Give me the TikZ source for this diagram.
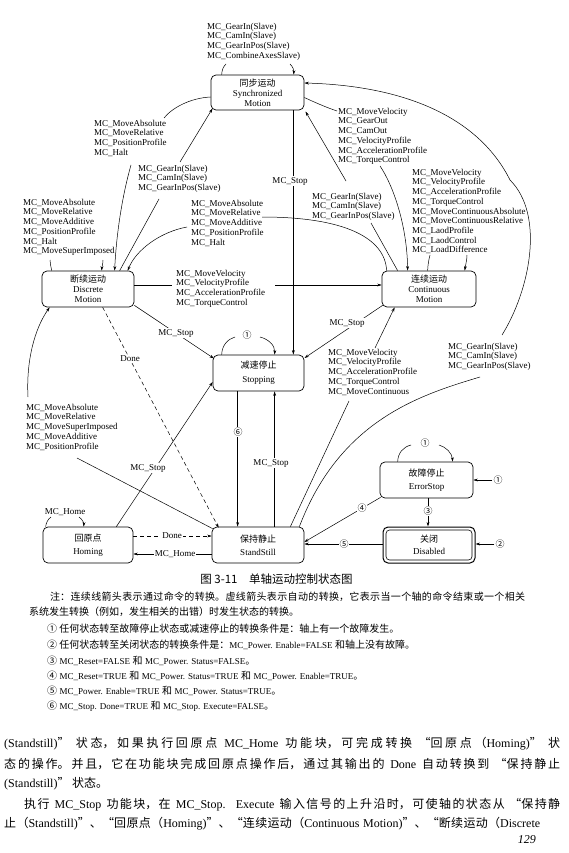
\documentclass[tikz,border=0pt]{standalone}
\usepackage{fontspec}
\setmainfont{Liberation Serif}
\newfontfamily\cjk{Noto Sans CJK SC}
\usetikzlibrary{arrows.meta}
\newcommand\zh[1]{{\cjk #1}}
\newcommand\jz{\XeTeXlinebreaklocale "zh"\XeTeXlinebreakskip=0pt plus 1pt\relax
  \tolerance=10000\hbadness=10000\parfillskip=0pt\parindent=0pt\relax}
\newcommand\jline[2]{\parbox[b]{#1}{\jz\noindent #2}}
\newcommand\nf{\fontsize{10}{11}\selectfont}
\newcommand\nl[1]{{\fontsize{9}{10}\selectfont #1}}
\newcommand\pf{\fontsize{12}{13}\selectfont}
\tikzset{
  st/.style={draw, rounded corners=5pt, line width=0.7pt, inner sep=0pt, align=center,
    font=\fontsize{9}{10}\selectfont, minimum height=36pt},
  ln/.style={line width=0.5pt},
  ar/.style={-{Stealth[length=4.5pt,width=2.8pt]}},
  dsh/.style={dash pattern=on 4pt off 3pt},
  lbl/.style={anchor=north west, inner sep=0pt, align=left, font=\fontsize{9}{9.7}\selectfont},
  wl/.style={fill=white, inner sep=0.8pt, font=\fontsize{9}{9.7}\selectfont},
  txt/.style={anchor=base west, inner sep=0pt},
}
\begin{document}
\begin{tikzpicture}[x=1pt,y=-1pt]
\fill[white] (0,0) rectangle (568,853);
\useasboundingbox (0,0) rectangle (568,853);

% ---------- states
\node[st, minimum width=93pt, minimum height=35pt] (sync) at (257.5,92.5) {\zh{同步运动}\\Synchronized\\Motion};
\node[st, minimum width=92pt] (disc) at (88,289) {\zh{断续运动}\\Discrete\\Motion};
\node[st, minimum width=94pt] (cont) at (429,289) {\zh{连续运动}\\Continuous\\Motion};
\node[st, minimum width=91pt] (stop) at (258.5,373) {\zh{减速停止}\\[4pt]Stopping};
\node[st, minimum width=92pt] (stand) at (258,545) {\zh{保持静止}\\[3pt]StandStill};
\node[st, minimum width=90pt] (hom) at (88,545) {\zh{回原点}\\[3pt]Homing};
\node[st, minimum width=92pt, line width=1pt] (dis) at (429,545) {\zh{关闭}\\[2pt]Disabled};
\draw[line width=0.6pt, rounded corners=3.5pt] ([xshift=3.5pt,yshift=-3.5pt]dis.north west) rectangle ([xshift=-3.5pt,yshift=3.5pt]dis.south east);
\node[st, minimum width=93pt] (err) at (426.5,480) {\zh{故障停止}\\[3pt]ErrorStop};

% ---------- connectors
% synchronized self loop
\draw[ln] ([xshift=11pt]sync.north west) .. controls (222,70) and (223,67) .. (226,64);
\draw[ln,ar] (290,64) .. controls (293,67) and (294,70) .. ([xshift=83pt]sync.north west);
% sync -> discrete
\draw[ln] ([yshift=-4.5pt]sync.west) .. controls (190,98) and (172,108) .. (164,118);
\draw[ln,ar] (131,165) .. controls (121,200) and (116,240) .. ([xshift=73pt]disc.north west);
% discrete -> sync
\draw[ln] ([xshift=78pt]disc.north west) -- (159,199);
\draw[ln,ar] (180,162) -- (212.5,108.5);
% continuous -> discrete
\draw[ln] ([xshift=5pt]cont.north west) .. controls (385,238) and (345,217) .. (262,217);
\draw[ln,ar] (187,227) .. controls (160,232) and (136,250) .. ([xshift=86pt]disc.north west);
% discrete -> continuous
\draw[ln] ([yshift=4pt]disc.east) -- (172,285);
\draw[ln,ar] (275,285) -- ([yshift=4pt]cont.west);
% discrete -> stopping
\draw[ln,ar] ([yshift=2pt]disc.south east) -- (214,358.5);
% discrete -> standstill (Done)
\draw[ln,dsh,ar] ([xshift=61pt]disc.south west) -- ([xshift=7pt,yshift=-1pt]stand.north west);
% sync -> continuous
\draw[ln] ([yshift=-5pt]sync.east) .. controls (316,103) and (328,108) .. (337,111);
\draw[ln,ar] (380,166) .. controls (393,185) and (407,225) .. ([xshift=26pt]cont.north west);
% continuous -> sync
\draw[ln] ([xshift=16pt]cont.north west) -- (371,223);
\draw[ln,ar] (346,181) -- (305.5,111.5);
% standstill -> sync (big arc)
\draw[ln] ([xshift=-5pt]stand.north east) .. controls (340,420) and (420,395) .. (480,377);
\draw[ln,ar] (502,335) .. controls (530,290) and (545,215) .. (510,180) .. controls (480,120) and (410,86) .. ([yshift=9.5pt]sync.east);
% standstill -> continuous
\draw[ln] ([xshift=-14pt]stand.north east) -- (349,401);
\draw[ln,ar] (375,348) -- ([xshift=13pt]cont.south west);
% continuous -> stopping
\draw[ln,ar] ([xshift=1pt,yshift=2pt]cont.south west) -- (304.5,358);
% sync -> stopping
\draw[ln,ar] ([xshift=-11pt]sync.south east) -- ([xshift=-11pt]stop.north east);
% stopping self loop
\draw[ln] ([xshift=9pt]stop.north west) .. controls (222,345) and (228,339) .. (235,337);
\draw[ln,ar] (260,337) .. controls (268,339) and (275,345) .. ([xshift=62pt]stop.north west);
% stopping -> standstill
\draw[ln,ar] ([xshift=25pt]stop.south west) -- ([xshift=26pt]stand.north west);
% standstill -> stopping
\draw[ln,ar] ([xshift=63pt]stand.north west) -- ([xshift=62pt]stop.south west);
% homing -> stopping
\draw[ln,ar] ([xshift=-17pt]hom.north east) -- ([yshift=-9pt]stop.west);
% standstill -> discrete
\draw[ln] ([xshift=1pt,yshift=-2pt]stand.north west) -- (77,458);
\draw[ln,ar] (28,397) .. controls (26,360) and (35,328) .. ([xshift=8pt]disc.south west);
% discrete self loop
\draw[ln] ([xshift=10pt]disc.north west) .. controls (51,266) and (50,264) .. (50,260);
\draw[ln,ar] (103,260) .. controls (103,264) and (102,266) .. ([xshift=60pt]disc.north west);
% continuous self loop
\draw[ln] ([xshift=46pt]cont.north west) .. controls (428,263) and (429,259) .. (430,255);
\draw[ln,ar] (467,255) .. controls (467,259) and (466,263) .. ([xshift=83pt]cont.north west);
% homing self loop
\draw[ln] ([xshift=3pt]hom.north west) .. controls (46,523) and (48,519) .. (51,517);
\draw[ln,ar] (79,517) .. controls (82,519) and (84,523) .. ([xshift=41pt]hom.north west);
% errorstop self loop
\draw[ln] ([xshift=18pt]err.north west) .. controls (398,453) and (403,447) .. (411,445);
\draw[ln,ar] (439,445) .. controls (446,447) and (452,453) .. ([xshift=73pt]err.north west);
% (1) -> errorstop
\node[inner sep=1pt, font=\fontsize{9}{9}\selectfont] (c1r) at (498,480) {\zh{①}};
\draw[ln,ar] (c1r) -- (err.east);
% errorstop -> standstill
\draw[ln,ar] ([xshift=1pt,yshift=1pt]err.south west) -- ([yshift=3pt]stand.east);
% errorstop -> disabled
\draw[ln,ar] ([xshift=1.5pt]err.south) -- ([xshift=-1pt]dis.north);
% disabled -> standstill
\draw[ln,ar] ([yshift=1pt]dis.west) -- ([yshift=1pt]stand.east);
% (2) -> disabled
\node[inner sep=1pt, font=\fontsize{9}{9}\selectfont] (c2r) at (500,544) {\zh{②}};
\draw[ln,ar] (c2r) -- ([yshift=1pt]dis.east);
% homing <-> standstill
\draw[ln,dsh,ar] ([yshift=9pt]hom.east) -- ([yshift=9pt]stand.west);
\draw[ln,ar] ([yshift=-9pt]stand.west) -- ([yshift=-9pt]hom.east);

% ---------- labels
\node[lbl] (lA) at (207,22.8) {MC\_GearIn(Slave)\\MC\_CamIn(Slave)\\MC\_GearInPos(Slave)\\MC\_CombineAxesSlave)};
\node[lbl] (lB) at (94,119.8) {MC\_MoveAbsolute\\MC\_MoveRelative\\MC\_PositionProfile\\MC\_Halt};
\node[lbl] (lC) at (138,164.8) {MC\_GearIn(Slave)\\MC\_CamIn(Slave)\\MC\_GearInPos(Slave)};
\node[lbl] (lD) at (338,107.8) {MC\_MoveVelocity\\MC\_GearOut\\MC\_CamOut\\MC\_VelocityProfile\\MC\_AccelerationProfile\\MC\_TorqueControl};
\node[lbl] (lE) at (312,192.8) {MC\_GearIn(Slave)\\MC\_CamIn(Slave)\\MC\_GearInPos(Slave)};
\node[lbl] (lF) at (412,168.8) {MC\_MoveVelocity\\MC\_VelocityProfile\\MC\_AccelerationProfile\\MC\_TorqueControl\\MC\_MoveContinuousAbsolute\\MC\_MoveContinuousRelative\\MC\_LaodProfile\\MC\_LaodControl\\MC\_LoadDifference};
\node[lbl] (lG) at (23,198.8) {MC\_MoveAbsolute\\MC\_MoveRelative\\MC\_MoveAdditive\\MC\_PositionProfile\\MC\_Halt\\MC\_MoveSuperImposed};
\node[lbl] (lH) at (191,199.8) {MC\_MoveAbsolute\\MC\_MoveRelative\\MC\_MoveAdditive\\MC\_PositionProfile\\MC\_Halt};
\node[lbl] (lI) at (176,269.8) {MC\_MoveVelocity\\MC\_VelocityProfile\\MC\_AccelerationProfile\\MC\_TorqueControl};
\node[lbl] (lJ) at (26,403.8) {MC\_MoveAbsolute\\MC\_MoveRelative\\MC\_MoveSuperImposed\\MC\_MoveAdditive\\MC\_PositionProfile};
\node[lbl] (lK) at (328,348.8) {MC\_MoveVelocity\\MC\_VelocityProfile\\MC\_AccelerationProfile\\MC\_TorqueControl\\MC\_MoveContinuous};
\node[lbl] (lL) at (448,342.8) {MC\_GearIn(Slave)\\MC\_CamIn(Slave)\\MC\_GearInPos(Slave)};

\node[wl] (s1) at (290,181) {MC\_Stop};
\node[wl] (s2) at (176,333) {MC\_Stop};
\node[wl] (s3) at (347,323) {MC\_Stop};
\node[wl] (s4) at (271,463) {MC\_Stop};
\node[wl] (s5) at (148,468) {MC\_Stop};
\node[wl] (d1) at (130,359) {Done};
\node[wl] (d2) at (172,536) {Done};
\node[wl] (h1) at (175,554) {MC\_Home};
\node[inner sep=0pt, font=\fontsize{9}{9.7}\selectfont] (h2) at (65,512) {MC\_Home};
\node[inner sep=0.5pt, font=\fontsize{9}{9}\selectfont] (n1a) at (247,335) {\zh{①}};
\node[inner sep=0.5pt, font=\fontsize{9}{9}\selectfont] (n1b) at (425,443) {\zh{①}};
\node[wl, font=\fontsize{9}{9}\selectfont] (n6) at (238,432) {\zh{⑥}};
\node[wl, font=\fontsize{9}{9}\selectfont] (n4) at (362,508) {\zh{④}};
\node[wl, font=\fontsize{9}{9}\selectfont] (n3) at (428,511) {\zh{③}};
\node[wl, font=\fontsize{9}{9}\selectfont] (n5) at (344,544) {\zh{⑤}};

% ---------- caption and notes
\node[anchor=base, inner sep=0pt] (cap) at (276.5,583) {\fontsize{11.5}{12}\selectfont\zh{图 3-11\quad 单轴运动控制状态图}};
\node[txt] (t1) at (50,600) {\nf\jline{475pt}{\zh{注：连续线箭头表示通过命令的转换。虚线箭头表示自动的转换，它表示当一个轴的命令结束或一个相关}}};
\node[txt] (t2) at (29,615.5) {\nf\zh{系统发生转换（例如，发生相关的出错）时发生状态的转换。}};
\node[txt] (t3) at (47,632.5) {\nf\zh{① 任何状态转至故障停止状态或减速停止的转换条件是：轴上有一个故障发生。}};
\node[txt] (t4) at (47,648.5) {\nf\zh{② 任何状态转至关闭状态的转换条件是：}\nl{MC\_Power. Enable=FALSE} \zh{和轴上没有故障。}};
\node[txt] (t5) at (47,664) {\nf\zh{③} \nl{MC\_Reset=FALSE} \zh{和} \nl{MC\_Power. Status=FALSE}\zh{。}};
\node[txt] (t6) at (47,679.5) {\nf\zh{④} \nl{MC\_Reset=TRUE} \zh{和} \nl{MC\_Power. Status=TRUE} \zh{和} \nl{MC\_Power. Enable=TRUE}\zh{。}};
\node[txt] (t7) at (47,694.5) {\nf\zh{⑤} \nl{MC\_Power. Enable=TRUE} \zh{和} \nl{MC\_Power. Status=TRUE}\zh{。}};
\node[txt] (t8) at (47,709.5) {\nf\zh{⑥} \nl{MC\_Stop. Done=TRUE} \zh{和} \nl{MC\_Stop. Execute=FALSE}\zh{。}};

% ---------- body text
\node[txt] (p1) at (4,747.5) {\pf\jline{556pt}{(Standstill)\zh{” 状态，如果执行回原点} MC\_Home \zh{功能块，可完成转换 “回原点（}Homing)\zh{” 状}}};
\node[txt] (p2) at (4,768) {\pf\jline{556pt}{\zh{态的操作。并且，它在功能块完成回原点操作后，通过其输出的} Done \zh{自动转换到 “保持静止}}};
\node[txt] (p3) at (4,787.5) {\pf(Standstill)\zh{” 状态。}};
\node[txt] (p4) at (24,808) {\pf\jline{536pt}{\zh{执行} MC\_Stop \zh{功能块，在} MC\_Stop. Execute \zh{输入信号的上升沿时，可使轴的状态从 “保持静}}};
\node[txt] (p5) at (4,827.5) {\pf\jline{536pt}{\zh{止（}Standstill)\zh{”、“回原点（}Homing)\zh{”、“连续运动（}Continuous Motion)\zh{”、“断续运动（}Discrete}};
\node[anchor=base east, inner sep=0pt] (pg) at (536,843) {\pf\textit{129}};
\end{tikzpicture}
\end{document}
